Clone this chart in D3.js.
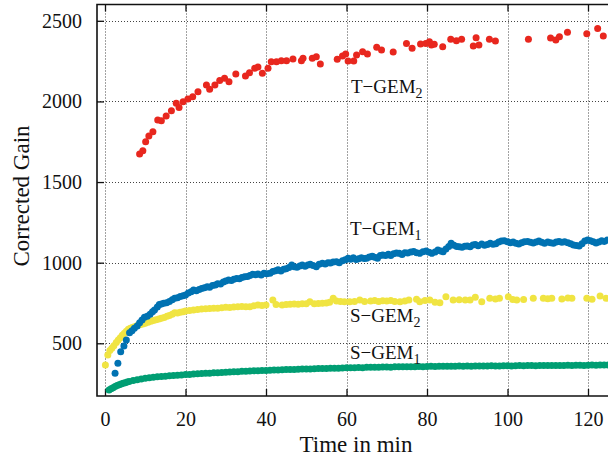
<!DOCTYPE html>
<html><head><meta charset="utf-8">
<script src="https://cdn.jsdelivr.net/npm/d3@7"></script>
<style>
html,body{margin:0;padding:0;background:#fff;}
svg{display:block;}
text{font-family:"Liberation Serif","Times New Roman",serif;fill:#111;}
</style></head>
<body>
<svg id="c" width="608" height="460"></svg>
<script>
// ---- data ----
const xTicks = [0, 20, 40, 60, 80, 100, 120];
const yTicks = [500, 1000, 1500, 2000, 2500];
const xTitle = "Time in min";
const yTitle = "Corrected Gain";

const redT = [8.6,9.4,10.1,10.9,11.9,13.1,14,15.2,16.5,17.7,18.4,19.4,20.6,21.8,23.1,25.2,26,27.3,28.5,29.7,30.8,32.5,34.9,35.9,37.2,38,39.1,40.5,41.3,42.6,43.8,45.1,46.7,48.8,49.2,51.5,52.5,53.5,57.7,59,59.8,60.4,61.8,62.5,64,65.2,67.5,68.7,71.6,74.9,76.3,78.4,79.7,80.6,81.1,81.8,83.9,85.9,87.3,88.6,91.5,92.2,92.9,95.5,97,105.2,110.7,112,112.9,114.9,119.7,122.4,123.8];
const redV = [1674,1694,1750,1786,1812,1885,1880,1910,1942,1988,1963,1998,2015,2029,2060,2102,2075,2102,2129,2143,2122,2170,2158,2178,2205,2213,2174,2205,2246,2246,2253,2253,2263,2253,2267,2267,2277,2232,2261,2282,2294,2251,2251,2288,2308,2294,2336,2319,2307,2360,2329,2356,2360,2370,2350,2354,2339,2385,2377,2385,2344,2395,2350,2385,2375,2385,2393,2381,2401,2429,2420,2453,2406];

const blueT = [2.5,3.2,3.9,4.7,5.3,6.1,6.7,7.3,8,8.6,9.2,9.8,10.5,11.2,11.8,12.3,13,13.5,14,14.6,15.3,16,16.7,17.3,18,18.7,19.4,20,20.7,21.4,22,22.7,23.4,24,24.7,25.4,26,26.7,27.4,28,28.7,29.4,30,30.7,31.4,32,32.7,33.4,34,34.7,35.4,36,36.7,37.4,38,38.8,39.5,40.2,41,41.7,42.4,43,43.7,44.4,45,45.7,46.4,47,47.7,48.4,49,49.7,50.4,51,51.7,52.5,53.2,54,54.7,55.4,56,56.7,57.5,58.2,59,59.7,60.4,61,61.7,62.4,63,63.7,64.4,65,65.7,66.4,67,67.7,68.4,69,69.7,70.4,71,71.7,72.4,73.1,73.8,74.5,75.2,76,76.7,77.4,78.2,79,79.8,80.5,81.2,82,82.7,83.4,84,84.7,85.4,86,86.7,87.4,88,88.7,89.4,90,90.7,91.4,92,92.7,93.6,94.3,95,95.7,96.4,97.1,97.8,98.5,99.2,100,100.7,101.4,102.1,102.8,103.5,104.2,105,105.7,106.4,107.1,107.8,108.5,109.2,110,110.7,111.4,112.1,112.8,113.5,114.2,115,115.7,116.4,117.1,117.8,118.5,119.2,119.9,120.6,121.3,122,122.7,123.4,124.1,124.8];
const blueV = [314,376,448,483,520,566,578,593,608,628,645,661,668,680,695,706,725,740,744,748,752,760,770,779,782,790,795,800,812,820,830,826,834,840,845,851,848,858,862,870,868,880,886,893,890,897,902,900,908,913,915,920,928,925,930,923,935,932,934,945,950,956,948,960,962,970,985,975,972,980,985,978,986,990,982,975,990,996,992,1000,998,1004,1006,1000,1012,1018,1027,1022,1030,1020,1025,1030,1026,1027,1035,1040,1034,1028,1045,1048,1044,1052,1045,1055,1060,1058,1050,1062,1060,1066,1070,1062,1058,1068,1072,1065,1058,1066,1078,1072,1068,1085,1100,1120,1108,1100,1098,1096,1102,1104,1099,1110,1112,1105,1116,1108,1112,1120,1114,1118,1128,1135,1136,1130,1124,1128,1120,1116,1124,1130,1132,1126,1122,1128,1134,1126,1120,1128,1124,1120,1128,1132,1126,1130,1124,1118,1110,1106,1103,1118,1135,1140,1136,1130,1122,1128,1136,1132,1140];

const yellowT = [0.1,0.7,1.2,1.7,2.2,2.8,3.3,3.8,4.3,4.8,5.3,5.8,6.3,6.8,7.3,8,8.7,9.4,10,10.7,11.4,12,12.7,13.4,14,14.7,15.4,16,16.7,17.3,18,18.7,19.4,20,21,22,23,24,25,26,27,28,29,30,31,32,33,34,35,36,37,38,39,40,41.7,42.5,44,45,46,47,48,49,50,50.9,52,53,54,55,55.8,56.7,57.5,58.5,59.5,60.8,62,63.3,64.5,66,67,68,69,70,71,72,73.3,74.5,75.5,77.4,78.2,79.5,80.7,82,83.2,84.7,86.5,88,89.5,90.7,92,93.6,95.6,97,98,100.2,101.3,102.3,104,106.4,108.9,110,111,113.5,115,116,119.7,121,123,124.5];
const yellowV = [365,427,455,470,485,505,520,535,550,562,575,587,593,598,603,610,615,620,624,630,636,642,646,650,655,660,667,672,680,690,688,692,696,700,703,707,709,712,714,716,718,717,720,723,722,725,727,728,726,727,733,738,735,738,768,740,738,740,742,744,742,745,746,758,745,747,748,750,755,779,762,760,758,758,760,768,760,762,765,760,764,762,765,760,758,762,768,773,758,765,768,755,752,789,768,770,768,768,785,758,779,775,779,789,772,768,772,779,779,776,779,775,781,779,779,773,793,779];

const greenT = [1,1.5,2,2.5,3,3.5,4,4.5,5,5.5,6,7,8,9,10,11,12,13,14,15,16,17,18,19,20,21,22,23,24,25,26,27,28,29,30,31,32,33,34,35,36,37,38,39,40,41,42,43,44,45,46,47,48,49,50,51,52,53,54,55,56,57,58,59,60,61,62,63,64,65,66,67,68,69,70,71,72,73,74,75,76,77,78,79,80,81,82,83,84,85,86,87,88,89,90,91,92,93,94,95,96,97,98,99,100,101,102,103,104,105,106,107,108,109,110,111,112,113,114,115,116,117,118,119,120,121,122,123,124,125];
const greenV = [210,218,225,232,238,243,248,252,256,260,263,269,274,279,283,286,289,292,294,296,298,300,302,304,306,307,309,311,312,314,315,317,318,319,321,322,323,324,326,327,328,329,330,331,332,333,334,335,336,337,337,338,339,340,341,341,342,343,344,344,345,346,346,347,348,348,349,350,349,351,351,352,352,353,353,352,354,355,354,355,354,355,356,355,356,357,356,357,357,358,357,358,359,358,359,358,359,360,359,360,361,360,360,361,361,360,361,362,361,362,362,361,362,363,362,363,362,363,363,364,363,364,364,363,364,365,364,365,366,365];

const seriesNames = ["S\u2212GEM", "S\u2212GEM", "T\u2212GEM", "T\u2212GEM"];
const seriesSubs = ["2", "1", "1", "2"];
const seriesColors = ["#f0e442", "#009e73", "#0072b2", "#e8271e"];

// ---- layout ----
const svg = d3.select("#c");
const L = 97, R = 608, T = 4.5, B = 396;
const x = d3.scaleLinear().domain([0, 120]).range([105, 588]);
const y = d3.scaleLinear().domain([500, 2500]).range([343.3, 20.8]);

// grid
const grid = svg.append("g").attr("stroke", "#444").attr("stroke-width", 1).attr("stroke-dasharray", "1,2");
grid.selectAll("line.v").data(xTicks).join("line")
  .attr("x1", d => Math.round(x(d)) + 0.5).attr("x2", d => Math.round(x(d)) + 0.5)
  .attr("y1", T).attr("y2", B);
grid.selectAll("line.h").data(yTicks).join("line")
  .attr("y1", d => Math.round(y(d)) + 0.5).attr("y2", d => Math.round(y(d)) + 0.5)
  .attr("x1", L).attr("x2", R);

// axes
const fmt = d3.format("d");
const xAxisB = d3.axisBottom(x).tickValues(xTicks).tickSize(-7).tickPadding(16).tickFormat(fmt);
const gxb = svg.append("g").attr("transform", `translate(0,${B})`).call(xAxisB);
const xAxisT = d3.axisTop(x).tickValues(xTicks).tickSize(-7).tickFormat("");
const gxt = svg.append("g").attr("transform", `translate(0,${T})`).call(xAxisT);
const yAxis = d3.axisLeft(y).tickValues(yTicks).tickSize(-7).tickPadding(15).tickFormat(fmt);
const gy = svg.append("g").attr("transform", `translate(${L},0)`).call(yAxis);
[gxb, gxt, gy].forEach(g => {
  g.attr("font-family", null).attr("font-size", null);
  g.select(".domain").remove();
  g.selectAll(".tick line").attr("stroke", "#111").attr("stroke-width", 1.3);
  g.selectAll("text").style("font-family", "'Liberation Serif', serif").style("font-size", "20px").attr("fill", "#111");
});

// frame
svg.append("path").attr("d", `M${R},${T}H${L}V${B}H${R}`)
  .attr("fill", "none").attr("stroke", "#111").attr("stroke-width", 1.6);

// clip
svg.append("clipPath").attr("id", "clip").append("rect")
  .attr("x", L).attr("y", T).attr("width", R - L).attr("height", B - T);

const dataSets = [
  {t: yellowT, v: yellowV},
  {t: greenT, v: greenV},
  {t: blueT, v: blueV},
  {t: redT, v: redV}
];
const pts = svg.append("g").attr("clip-path", "url(#clip)");
dataSets.forEach((s, i) => {
  pts.append("g").attr("fill", seriesColors[i])
    .selectAll("circle").data(s.t.map((t, j) => [t, s.v[j]])).join("circle")
    .attr("cx", d => x(d[0])).attr("cy", d => y(d[1])).attr("r", 3.5);
});

// series labels
const labelPos = [[350, 321.5], [350, 358.5], [350, 235], [351, 92.5]];
seriesNames.forEach((n, i) => {
  const t = svg.append("text").attr("x", labelPos[i][0]).attr("y", labelPos[i][1])
    .style("font-size", "19px");
  t.append("tspan").text(n);
  t.append("tspan").style("font-size", "14px").attr("dy", 5).text(seriesSubs[i]);
});

// titles
svg.append("text").attr("x", 356).attr("y", 452).attr("text-anchor", "middle")
  .style("font-size", "23px").text(xTitle);
svg.append("text").attr("transform", "translate(29,196) rotate(-90)")
  .attr("text-anchor", "middle").style("font-size", "23px").text(yTitle);
</script>
</body></html>
